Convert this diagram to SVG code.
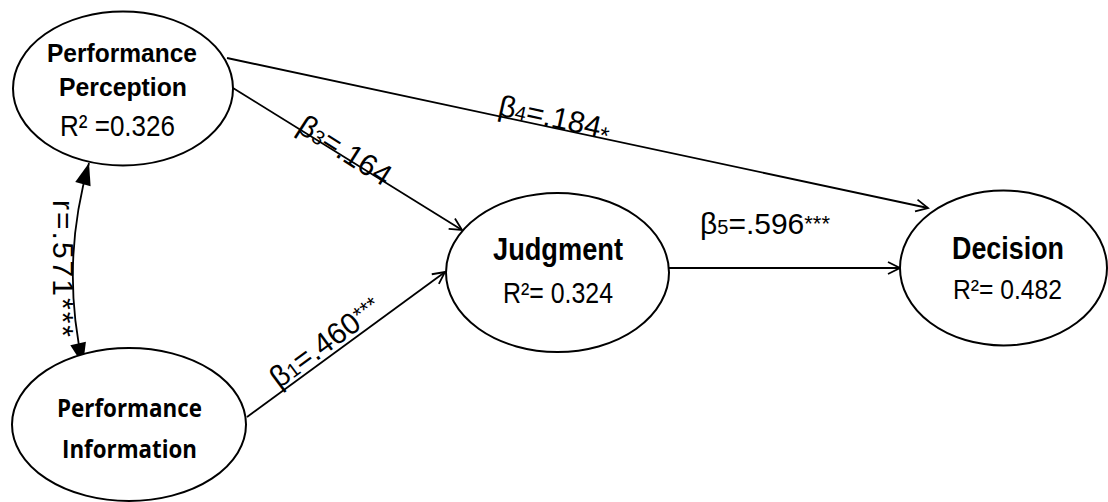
<svg xmlns="http://www.w3.org/2000/svg" width="1108" height="502" viewBox="0 0 1108 502">
<style>
.node ellipse{fill:#fff;stroke:#000;stroke-width:2}
.t{font-family:"Liberation Sans",Arial,sans-serif;fill:#000}
.b{font-weight:bold}
.c{font-family:"Open Sans","Noto Sans",sans-serif;font-weight:700;fill:#000}
.edge{fill:none;stroke:#000;stroke-width:1.8}
.lbl{font-family:"Liberation Sans",Arial,sans-serif;font-size:30px;fill:#000}
</style>
<defs>
<marker id="open" markerWidth="14" markerHeight="13" refX="13" refY="6" orient="auto" markerUnits="userSpaceOnUse" overflow="visible">
<path d="M1,0 L13,6 L1,12" fill="none" stroke="#000" stroke-width="1.8"/>
</marker>
<marker id="solid" markerWidth="24" markerHeight="18" refX="22" refY="8" orient="auto-start-reverse" markerUnits="userSpaceOnUse" overflow="visible">
<path d="M0,0 L22,8 L0,16 z" fill="#000"/>
</marker>
</defs>
<g id="connectors">
<path class="edge" d="M227,58 L928,208" marker-end="url(#open)"/>
<path class="edge" d="M233,88 L462,230" marker-end="url(#open)"/>
<path class="edge" d="M247,417 L445,272" marker-end="url(#open)"/>
<path class="edge" d="M669,268 L900,268" marker-end="url(#open)"/>
<path class="edge" d="M89,163 Q60,264 83,365" marker-start="url(#solid)" marker-end="url(#solid)"/>
<text class="lbl" transform="translate(295.5,131) rotate(32.5)">β<tspan font-size="20">3</tspan>=.164</text>
<text class="lbl" transform="translate(497,115) rotate(12.5)">β<tspan font-size="20">4</tspan>=.184<tspan font-size="24" dy="5">*</tspan></text>
<text class="lbl" transform="translate(279,389) rotate(-36.5)" font-size="31">β<tspan font-size="20">1</tspan>=.460<tspan font-size="22" dy="-5">***</tspan></text>
<text class="lbl" x="700" y="234">β<tspan font-size="20">5</tspan>=.596<tspan font-size="22" dy="-3">***</tspan></text>
<text class="lbl" transform="translate(53,200) rotate(90)" textLength="137" lengthAdjust="spacing">r=.571***</text>
</g>
<g id="node-perception" class="node">
<ellipse cx="123" cy="88.5" rx="110" ry="77"/>
<text class="t b" x="47" y="62" font-size="26" textLength="150" lengthAdjust="spacingAndGlyphs">Performance</text>
<text class="t b" x="59" y="96" font-size="26" textLength="128" lengthAdjust="spacingAndGlyphs">Perception</text>
<text class="t" x="60" y="136" font-size="30" textLength="115" lengthAdjust="spacingAndGlyphs">R² =0.326</text>
</g>
<g id="node-information" class="node">
<ellipse cx="129" cy="424.5" rx="117" ry="76.5"/>
<text class="c" x="57" y="417" font-size="25" textLength="145" lengthAdjust="spacingAndGlyphs">Performance</text>
<text class="c" x="62" y="458" font-size="25" textLength="135" lengthAdjust="spacingAndGlyphs">Information</text>
</g>
<g id="node-judgment" class="node">
<ellipse cx="557.5" cy="272.5" rx="111.5" ry="79.5"/>
<text class="t b" x="493" y="260" font-size="32" textLength="130" lengthAdjust="spacingAndGlyphs">Judgment</text>
<text class="t" x="503" y="303" font-size="29" textLength="110" lengthAdjust="spacingAndGlyphs">R²= 0.324</text>
</g>
<g id="node-decision" class="node">
<ellipse cx="1003.5" cy="268" rx="103.5" ry="77.5"/>
<text class="t b" x="952" y="259" font-size="31" textLength="112" lengthAdjust="spacingAndGlyphs">Decision</text>
<text class="t" x="953" y="299" font-size="28" textLength="109" lengthAdjust="spacingAndGlyphs">R²= 0.482</text>
</g>
</svg>
